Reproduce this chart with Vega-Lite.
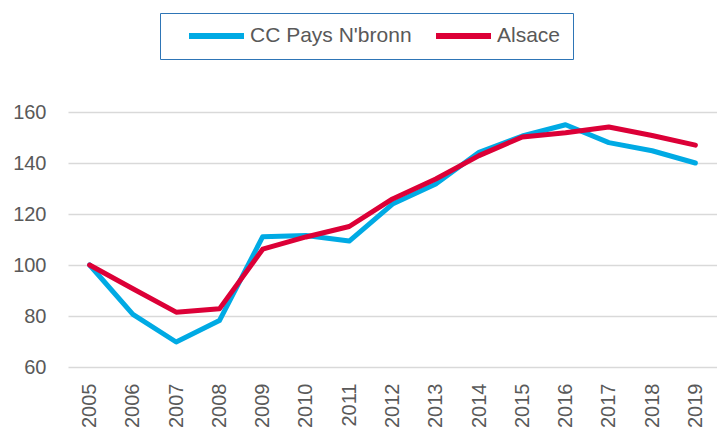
{
  "$schema": "https://vega.github.io/schema/vega-lite/v6.json",
  "width": 649,
  "height": 255,
  "autosize": "none",
  "padding": {"left": 68, "top": 112, "right": 0, "bottom": 65},
  "background": "white",
  "config": {"view": {"stroke": null}, "font": "Liberation Sans"},
  "data": {"values": [
    {"year": "2005", "series": "CC Pays N'bronn", "value": 100},
    {"year": "2006", "series": "CC Pays N'bronn", "value": 80.6},
    {"year": "2007", "series": "CC Pays N'bronn", "value": 69.8},
    {"year": "2008", "series": "CC Pays N'bronn", "value": 78.2},
    {"year": "2009", "series": "CC Pays N'bronn", "value": 111.1},
    {"year": "2010", "series": "CC Pays N'bronn", "value": 111.6},
    {"year": "2011", "series": "CC Pays N'bronn", "value": 109.4},
    {"year": "2012", "series": "CC Pays N'bronn", "value": 123.9},
    {"year": "2013", "series": "CC Pays N'bronn", "value": 131.8},
    {"year": "2014", "series": "CC Pays N'bronn", "value": 144.2},
    {"year": "2015", "series": "CC Pays N'bronn", "value": 150.6},
    {"year": "2016", "series": "CC Pays N'bronn", "value": 155.0},
    {"year": "2017", "series": "CC Pays N'bronn", "value": 148.0},
    {"year": "2018", "series": "CC Pays N'bronn", "value": 144.8},
    {"year": "2019", "series": "CC Pays N'bronn", "value": 140.0},
    {"year": "2005", "series": "Alsace", "value": 100},
    {"year": "2006", "series": "Alsace", "value": 90.7},
    {"year": "2007", "series": "Alsace", "value": 81.5},
    {"year": "2008", "series": "Alsace", "value": 82.8},
    {"year": "2009", "series": "Alsace", "value": 106.2},
    {"year": "2010", "series": "Alsace", "value": 111.0},
    {"year": "2011", "series": "Alsace", "value": 115.1},
    {"year": "2012", "series": "Alsace", "value": 125.9},
    {"year": "2013", "series": "Alsace", "value": 133.7},
    {"year": "2014", "series": "Alsace", "value": 142.9},
    {"year": "2015", "series": "Alsace", "value": 150.2},
    {"year": "2016", "series": "Alsace", "value": 151.9},
    {"year": "2017", "series": "Alsace", "value": 154.1},
    {"year": "2018", "series": "Alsace", "value": 150.8},
    {"year": "2019", "series": "Alsace", "value": 147.0}
  ]},
  "mark": {"type": "line", "strokeWidth": 5, "strokeCap": "round", "strokeJoin": "round"},
  "encoding": {
    "x": {
      "field": "year", "type": "ordinal", "title": null,
      "scale": {"type": "point", "padding": 0.5},
      "axis": {"labelAngle": -90, "labelAlign": "right", "labelBaseline": "middle", "labelFontSize": 20, "labelColor": "#595959", "ticks": false, "domain": false, "labelPadding": 16, "grid": false}
    },
    "y": {
      "field": "value", "type": "quantitative", "title": null,
      "scale": {"domain": [60, 160], "nice": false, "zero": false},
      "axis": {"values": [60, 80, 100, 120, 140, 160], "labelFontSize": 20, "labelColor": "#595959", "ticks": false, "domain": false, "labelPadding": 22, "gridColor": "#d9d9d9", "gridWidth": 1.5}
    },
    "color": {
      "field": "series", "type": "nominal",
      "title": "\u2003",
      "scale": {"domain": ["CC Pays N'bronn", "Alsace"], "range": ["#00aae4", "#dc0037"]},
      "legend": {
        "orient": "none", "legendX": 92, "legendY": -99, "direction": "horizontal",
        "titleOrient": "left", "titleFontSize": 18, "titlePadding": 14,
        "strokeColor": "#2e75b6", "padding": 12, "symbolType": "stroke", "symbolSize": 3025,
        "symbolStrokeWidth": 6, "labelFontSize": 21, "labelColor": "#595959", "labelOffset": 3,
        "columnPadding": 21, "fillColor": "white", "labelLimit": 300, "clipHeight": 22
      }
    }
  }
}
